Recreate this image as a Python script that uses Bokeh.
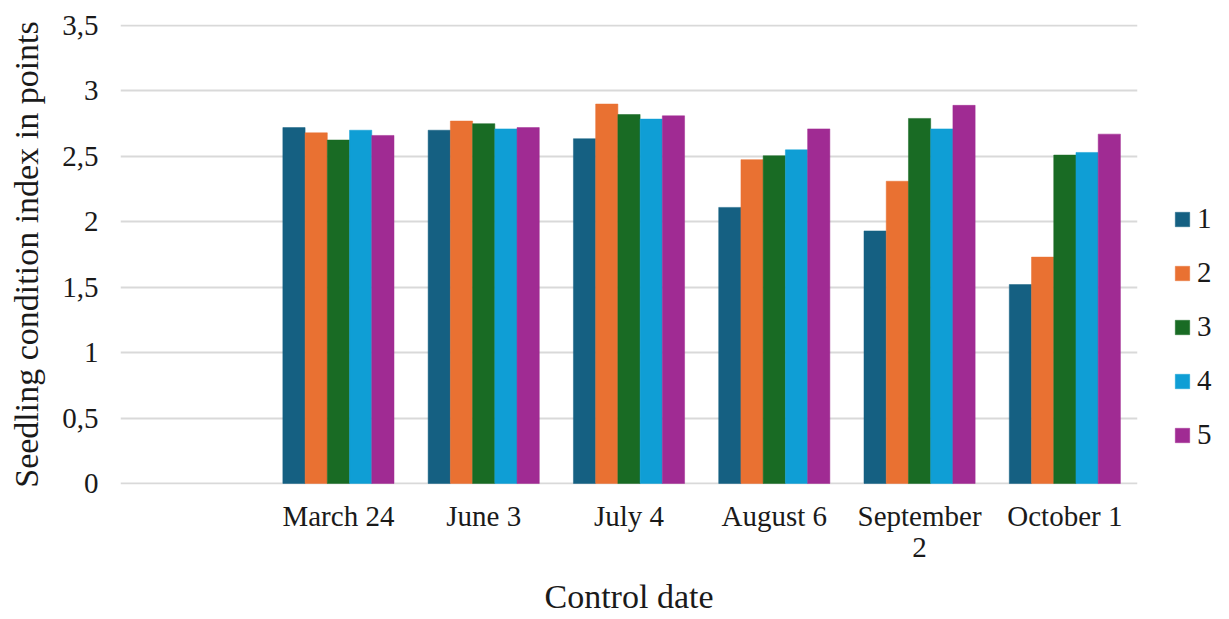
import json
from bokeh.plotting import figure
from bokeh.models import (ColumnDataSource, FactorRange, Legend, LegendItem, FixedTicker, Range1d,
                          CategoricalAxis, CustomJSTickFormatter)
from bokeh.transform import dodge
from bokeh.embed import file_html
from bokeh.resources import INLINE

dates = ["March 24", "June 3", "July 4", "August 6", "September 2", "October 1"]
s1 = [2.72, 2.70, 2.635, 2.11, 1.93, 1.52]
s2 = [2.68, 2.77, 2.90, 2.475, 2.31, 1.73]
s3 = [2.625, 2.75, 2.82, 2.505, 2.79, 2.51]
s4 = [2.70, 2.71, 2.785, 2.55, 2.71, 2.53]
s5 = [2.66, 2.72, 2.81, 2.71, 2.89, 2.67]
series_names = ["1", "2", "3", "4", "5"]
colors = ["#156082", "#E97132", "#196B24", "#0F9ED5", "#A02B93"]
y_ticks = [0, 0.5, 1, 1.5, 2, 2.5, 3, 3.5]
y_tick_labels = ["0", "0,5", "1", "1,5", "2", "2,5", "3", "3,5"]
# first-line / second-line text of the date labels
label_line1 = {"September 2": "September"}
label_line2 = {"September 2": "2"}

FONT = "'Liberation Serif', 'Times New Roman', serif"
TXT = "#1a1a1a"

source = ColumnDataSource(data=dict(date=dates, s1=s1, s2=s2, s3=s3, s4=s4, s5=s5))

factors = [""] + dates
p = figure(frame_width=1017, frame_height=460, x_range=FactorRange(factors=factors, range_padding=0),
           y_range=Range1d(-0.008, 3.508), output_backend="svg", toolbar_location=None,
           min_border_left=120, min_border_right=92, min_border_top=24, min_border_bottom=10)

bw = 0.153
offsets = [-2 * bw, -bw, 0, bw, 2 * bw]
items = []
for key, name, c, off in zip(["s1", "s2", "s3", "s4", "s5"], series_names, colors, offsets):
    r = p.vbar(x=dodge("date", off, range=p.x_range), top=key, width=bw, source=source,
               fill_color=c, line_color=c, line_width=0.5)
    items.append(LegendItem(label=name, renderers=[r]))

legend = Legend(items=items, location=(36, 33), border_line_color=None, background_fill_alpha=0,
                label_text_font=FONT, label_text_font_size="29px", label_text_color=TXT,
                glyph_width=18, glyph_height=18, label_height=30,
                spacing=21, label_standoff=6, padding=0, margin=0)
p.add_layout(legend, "right")

p.outline_line_color = None
p.xgrid.grid_line_color = None
p.ygrid.grid_line_color = "#d9d9d9"
p.ygrid.grid_line_width = 2
p.yaxis.ticker = FixedTicker(ticks=y_ticks)
p.yaxis.major_label_overrides = {t: l for t, l in zip(y_ticks, y_tick_labels)}


def fmt(mapping, default_same):
    js = json.dumps(mapping)
    fallback = "tick" if default_same else "' '"
    return CustomJSTickFormatter(code=f"const m = {js}; return (tick in m) ? m[tick] : {fallback};")


p.xaxis[0].formatter = fmt(label_line1, True)
ax2 = CategoricalAxis(formatter=fmt(label_line2, False))
p.add_layout(ax2, "below")

for ax in [p.xaxis[0], ax2, p.yaxis[0]]:
    ax.axis_line_color = None
    ax.major_tick_line_color = None
    ax.minor_tick_line_color = None
    ax.major_label_text_font = FONT
    ax.major_label_text_font_size = "29px"
    ax.major_label_text_color = TXT
    ax.axis_label_text_font = FONT
    ax.axis_label_text_font_size = "34px"
    ax.axis_label_text_font_style = "normal"
    ax.axis_label_text_color = TXT

p.yaxis.axis_label = "Seedling condition index in points"
ax2.axis_label = "Control date"
p.yaxis.major_label_standoff = 16
p.yaxis.axis_label_standoff = 14
p.xaxis[0].major_label_standoff = 9
ax2.major_label_standoff = -10
ax2.axis_label_standoff = 12

open("out.html", "w").write(file_html(p, INLINE))
